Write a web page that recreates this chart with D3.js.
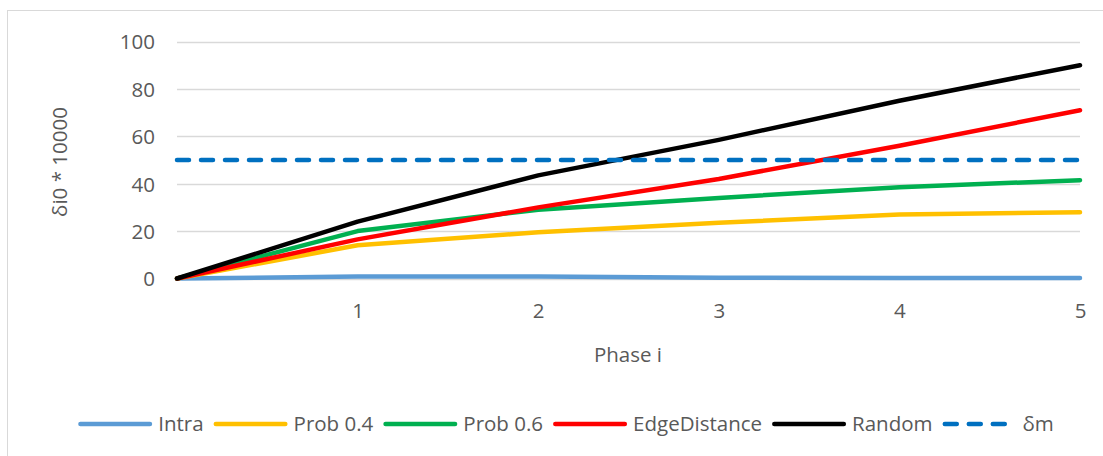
<!DOCTYPE html>
<html>
<head>
<meta charset="utf-8">
<script src="https://cdn.jsdelivr.net/npm/d3@7"></script>
<style>
  html, body { margin: 0; padding: 0; background: #fff; }
  svg { display: block; }
  text { font-family: "Open Sans", "Lato", sans-serif; fill: #595959; }
</style>
</head>
<body>
<svg id="chart" width="1103" height="456"></svg>
<script>
// ---- data ----
const phases = [0, 1, 2, 3, 4, 5];
const xTickLabels = [1, 2, 3, 4, 5];
const yTicks = [0, 20, 40, 60, 80, 100];
const seriesNames = ["Intra", "Prob 0.4", "Prob 0.6", "EdgeDistance", "Random", "δm"];
const intra = [0, 0.8, 0.8, 0.3, 0.2, 0.2];
const prob04 = [0, 14, 19.5, 23.5, 27, 28];
const prob06 = [0, 20, 29, 34, 38.5, 41.5];
const edgeDistance = [0, 16.5, 30, 42, 56, 71];
const random = [0, 24, 43.5, 58.5, 75, 90];
const deltaM = [50, 50, 50, 50, 50, 50];
const xTitle = "Phase i";
const yTitle = "δi0 * 10000";

// ---- styles ----
const colors = ["#5B9BD5", "#FFC000", "#00B050", "#FF0000", "#000000", "#0070C0"];
const dashed = [false, false, false, false, false, true];
const values = [intra, prob04, prob06, edgeDistance, random, deltaM];
const FS = 20.5;

const svg = d3.select("#chart");

// chart border
svg.append("rect").attr("x", 7.5).attr("y", 10.5).attr("width", 1100).attr("height", 460)
  .attr("fill", "#fff").attr("stroke", "#D9D9D9").attr("stroke-width", 1);

const x = d3.scaleLinear().domain([0, 5]).range([177, 1080]);
const y = d3.scaleLinear().domain([0, 100]).range([278.5, 41.5]);

// gridlines
svg.append("g").selectAll("line").data(yTicks).join("line")
  .attr("x1", x(0)).attr("x2", x(5))
  .attr("y1", d => Math.round(y(d)) + 0.5).attr("y2", d => Math.round(y(d)) + 0.5)
  .attr("stroke", "#D9D9D9").attr("stroke-width", 1.5);

// y axis labels
const yAxis = d3.axisLeft(y).tickValues(yTicks).tickSize(0).tickPadding(0).tickFormat(d3.format("d"));
const gy = svg.append("g").attr("transform", "translate(155,0)").call(yAxis);
gy.select(".domain").remove();
gy.selectAll("text").attr("font-size", FS).attr("fill", "#595959")
  .style("font-family", "'Open Sans', Lato, sans-serif").attr("dy", "0.36em");

// x axis labels
const xAxis = d3.axisBottom(x).tickValues(xTickLabels).tickSize(0).tickPadding(0).tickFormat(d3.format("d"));
const gx = svg.append("g").attr("transform", "translate(0,318)").call(xAxis);
gx.select(".domain").remove();
gx.selectAll("text").attr("font-size", FS).attr("fill", "#595959")
  .style("font-family", "'Open Sans', Lato, sans-serif").attr("y", 0).attr("dy", 0);

// titles
svg.append("text").attr("x", 628).attr("y", 362).attr("text-anchor", "middle")
  .attr("font-size", FS).text(xTitle);
svg.append("text").attr("transform", "translate(67,162) rotate(-90)")
  .attr("text-anchor", "middle").attr("font-size", FS).text(yTitle);

// lines
const line = d3.line().x((d, i) => x(phases[i])).y(d => y(d)).curve(d3.curveLinear);
const order = [0, 1, 2, 3, 4, 5];
svg.append("g").selectAll("path").data(order).join("path")
  .attr("d", i => line(values[i]))
  .attr("fill", "none")
  .attr("stroke", i => colors[i])
  .attr("stroke-width", 4.5)
  .attr("stroke-linecap", "round")
  .attr("stroke-linejoin", "round")
  .attr("stroke-dasharray", i => dashed[i] ? "12,12" : null);

// legend
const lg = svg.append("g");
const lineLen = 74, gapText = 6, gapItem = 10;
const items = lg.selectAll("g").data(order).join("g");
items.append("line")
  .attr("x1", 2.25).attr("x2", lineLen - 2.25).attr("y1", 0).attr("y2", 0)
  .attr("stroke", i => colors[i]).attr("stroke-width", 4.5)
  .attr("stroke-linecap", "round")
  .attr("stroke-dasharray", i => dashed[i] ? "12,12" : null);
items.append("text").attr("x", lineLen + gapText).attr("y", 0).attr("dy", "0.36em")
  .attr("font-size", FS).text(i => seriesNames[i]);
let cx = 0;
const offs = [];
items.each(function (i) {
  const tw = d3.select(this).select("text").node().getComputedTextLength();
  offs.push(cx);
  cx += lineLen + gapText + tw + gapItem;
});
const total = cx - gapItem;
const startX = 566 - total / 2;
items.attr("transform", (d, k) => `translate(${startX + offs[k]},424)`);
</script>
</body>
</html>
